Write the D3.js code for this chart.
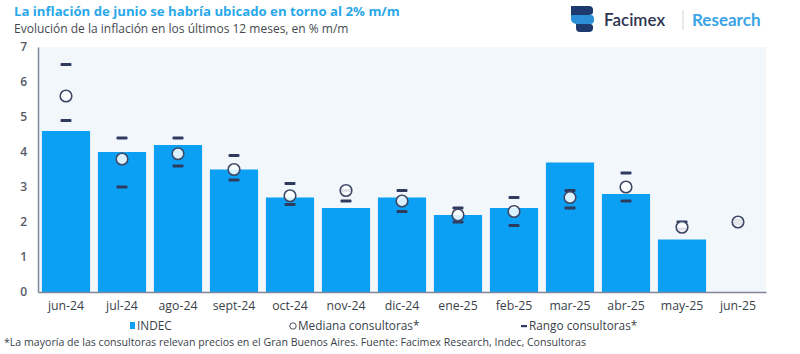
<!DOCTYPE html>
<html><head><meta charset="utf-8">
<script src="https://cdn.jsdelivr.net/npm/d3@7"></script>
<style>body{margin:0;background:#fff}svg{display:block;font-family:"Open Sans",sans-serif}</style>
</head><body><svg id="c" width="800" height="354"></svg>
<script>
const categories = ["jun-24","jul-24","ago-24","sept-24","oct-24","nov-24","dic-24","ene-25","feb-25","mar-25","abr-25","may-25","jun-25"];
const indec = [4.6,4.0,4.2,3.5,2.7,2.4,2.7,2.2,2.4,3.7,2.8,1.5,null];
const median = [5.6,3.8,3.95,3.5,2.75,2.9,2.6,2.2,2.3,2.7,3.0,1.85,2.0];
const rangeHigh = [6.5,4.4,4.4,3.9,3.1,2.9,2.9,2.4,2.7,2.9,3.4,2.0,2.05];
const rangeLow = [4.9,3.0,3.6,3.2,2.5,2.6,2.3,2.0,1.9,2.4,2.6,1.8,1.95];
const yTicks = [0,1,2,3,4,5,6,7];

const svg = d3.select("#c");
const m = {l:38, r:766, t:47, b:292};
const x = d3.scaleBand().domain(categories).range([m.l, m.r]).paddingInner(0.14).paddingOuter(0.07);
const y = d3.scaleLinear().domain([0,7]).range([m.b, m.t]);

// plot background
svg.append("rect").attr("x", m.l).attr("y", m.t).attr("width", m.r - m.l).attr("height", m.b - m.t).attr("fill", "#f2f7fc");

// bars
svg.selectAll("rect.bar").data(categories.map((c,i)=>({c, v: indec[i]})).filter(d=>d.v!=null))
  .join("rect").attr("class","bar")
  .attr("x", d=>x(d.c)).attr("width", x.bandwidth())
  .attr("y", d=>y(d.v)).attr("height", d=>y(0)-y(d.v))
  .attr("fill", "#0ca0f4");

// axes
const yAx = svg.append("g").attr("transform", `translate(${m.l},0)`)
  .call(d3.axisLeft(y).tickValues(yTicks).tickFormat(d3.format("d")).tickSize(0).tickPadding(11));
yAx.select(".domain").attr("stroke","#7d8597").attr("stroke-width",1.5);
yAx.selectAll("text").attr("font-size",12).attr("font-weight",600).attr("fill","#555b66").attr("font-family","'Open Sans',sans-serif");

const xAx = svg.append("g").attr("transform", `translate(0,${m.b})`)
  .call(d3.axisBottom(x).tickSize(0).tickPadding(9));
xAx.select(".domain").attr("stroke","#7d8597").attr("stroke-width",1.5);
xAx.selectAll("text").attr("font-size",12.3).attr("fill","#3a3f4a").attr("font-family","'Open Sans',sans-serif");

// range dashes
const cx = c => x(c) + x.bandwidth()/2;
const dashes = [];
categories.forEach((c,i)=>{ dashes.push({c, v: rangeHigh[i]}); dashes.push({c, v: rangeLow[i]}); });
svg.selectAll("rect.dash").data(dashes).join("rect").attr("class","dash")
  .attr("x", d=>cx(d.c)-5.5).attr("width", 11)
  .attr("y", d=>y(d.v)-1.4).attr("height", 2.8).attr("rx",1)
  .attr("fill", "#2f3b5e");

// median circles
svg.selectAll("circle.med").data(categories.map((c,i)=>({c, v: median[i]})))
  .join("circle").attr("class","med")
  .attr("cx", d=>cx(d.c)).attr("cy", d=>y(d.v)).attr("r", 5.8)
  .attr("fill", "#ffffff").attr("fill-opacity",0.85).attr("stroke", "#3d4866").attr("stroke-width", 1.6);

// titles
svg.append("text").attr("x",14).attr("y",16).attr("font-size",13.2).attr("font-weight",700)
  .attr("fill","#2aa8ea").text("La inflación de junio se habría ubicado en torno al 2% m/m");
svg.append("text").attr("x",14).attr("y",33).attr("font-size",12).attr("fill","#45494f")
  .text("Evolución de la inflación en los últimos 12 meses, en % m/m");

// logo
const lg = svg.append("g");
lg.append("path").attr("d","M571,6 h18 q4,0 4,4 v2 q0,3 -4,3 h-18 z").attr("fill","#1e3a6e");
lg.append("path").attr("d","M571,15 h20 q3,0 3,4 v1 q0,4 -4,4 h-12 q-7,0 -7,-5 z").attr("fill","#2b8fd8");
lg.append("path").attr("d","M576,24 h14 q3,0 3,3 v1 q0,4 -4,4 h-9 q-4,0 -4,-4 z").attr("fill","#1e3a6e");
lg.append("text").attr("x",604).attr("y",26).attr("font-size",17).attr("font-weight",600).attr("fill","#2e3550").attr("font-family","Lato, sans-serif").text("Facimex");
lg.append("line").attr("x1",683).attr("x2",683).attr("y1",10).attr("y2",30).attr("stroke","#cfd4dc").attr("stroke-width",1);
lg.append("text").attr("x",692).attr("y",26).attr("font-size",17).attr("font-weight",700).attr("fill","#3aa4e6").attr("font-family","Lato, sans-serif").text("Research");

// legend
const lgY = 330;
svg.append("rect").attr("x",130).attr("y",lgY-8).attr("width",5).attr("height",7).attr("fill","#0ca0f4");
svg.append("text").attr("x",137).attr("y",lgY).attr("font-size",11.8).attr("fill","#3a3f4a").text("INDEC");
svg.append("circle").attr("cx",293).attr("cy",lgY-4).attr("r",3.2).attr("fill","none").attr("stroke","#3a3f4a").attr("stroke-width",0.9);
svg.append("text").attr("x",298).attr("y",lgY).attr("font-size",11.8).attr("fill","#3a3f4a").text("Mediana consultoras*");
svg.append("rect").attr("x",521).attr("y",lgY-5).attr("width",6).attr("height",2.2).attr("fill","#2f3b5e");
svg.append("text").attr("x",529).attr("y",lgY).attr("font-size",11.8).attr("fill","#3a3f4a").text("Rango consultoras*");

svg.append("text").attr("x",4).attr("y",346).attr("font-size",10.6).attr("fill","#3a3f4a")
  .text("*La mayoría de las consultoras relevan precios en el Gran Buenos Aires. Fuente: Facimex Research, Indec, Consultoras");
</script></body></html>
